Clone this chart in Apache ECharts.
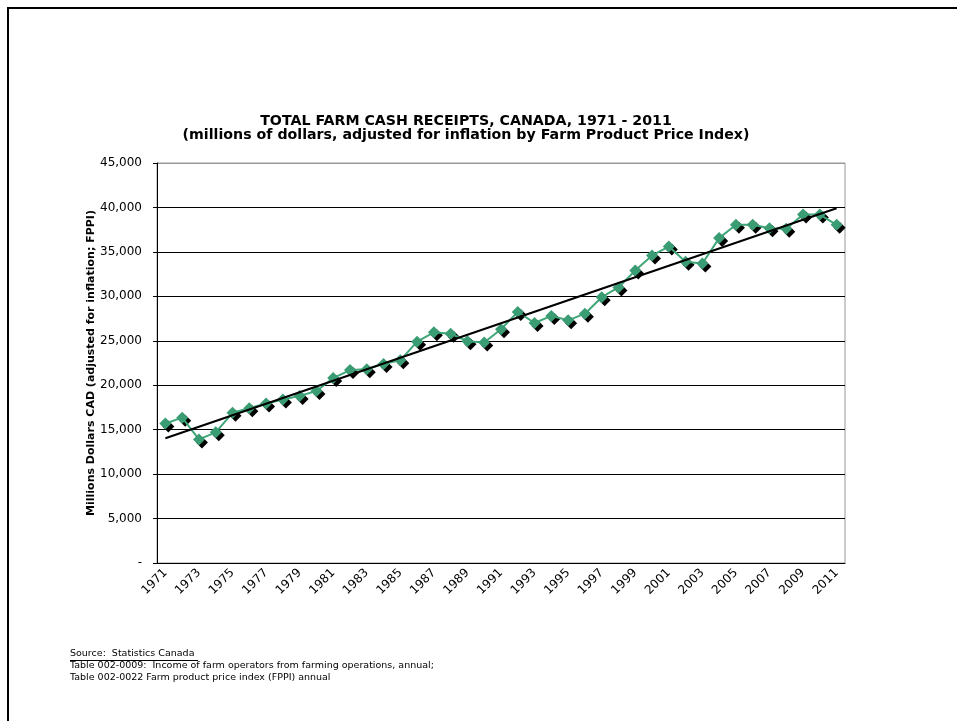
<!DOCTYPE html>
<html>
<head>
<meta charset="utf-8">
<script src="https://cdn.jsdelivr.net/npm/echarts@6/dist/echarts.min.js"></script>
<style>
  html, body { margin: 0; padding: 0; background: #fff; }
  #chart { width: 957px; height: 721px; }
</style>
</head>
<body>
<div id="chart"></div>
<script>
const years = [
  "1971", "1972", "1973", "1974", "1975", "1976", "1977", "1978", "1979", "1980",
  "1981", "1982", "1983", "1984", "1985", "1986", "1987", "1988", "1989", "1990",
  "1991", "1992", "1993", "1994", "1995", "1996", "1997", "1998", "1999", "2000",
  "2001", "2002", "2003", "2004", "2005", "2006", "2007", "2008", "2009", "2010",
  "2011",
];
// millions of dollars, inflation adjusted (FPPI)
const receipts = [
  15700, 16350, 13900, 14700, 16900, 17400, 17950, 18400, 18800, 19350,
  20800, 21700, 21800, 22400, 22800, 24900, 25950, 25800, 24950, 24800,
  26300, 28250, 27000, 27800, 27300, 28050, 29900, 31000, 32900, 34600,
  35600, 33900, 33700, 36550, 38050, 38050, 37650, 37600, 39200, 39200,
  38050,
];
const yTicks = [0, 5000, 10000, 15000, 20000, 25000, 30000, 35000, 40000, 45000];

// linear trend, like the spreadsheet's trendline
function linearTrend(vals) {
  const n = vals.length;
  const mx = (n - 1) / 2;
  const my = vals.reduce((a, b) => a + b, 0) / n;
  let sxy = 0, sxx = 0;
  vals.forEach((v, i) => {
    sxy += (i - mx) * (v - my);
    sxx += (i - mx) * (i - mx);
  });
  const k = sxy / sxx;
  return vals.map((v, i) => my + k * (i - mx));
}
const trend = linearTrend(receipts);

const font = "DejaVu Sans";
const chart = echarts.init(document.getElementById("chart"));

// grid lines black, top one grey like the plot border
const gridColors = yTicks.map((t, i) => (i === yTicks.length - 1 ? "#999" : "#000"));

const option = {
  animation: false,
  backgroundColor: "#fff",
  title: {
    text: "TOTAL FARM CASH RECEIPTS, CANADA, 1971 - 2011\n(millions of dollars, adjusted for inflation by Farm Product Price Index)",
    left: 461,
    top: 109,
    textAlign: "center",
    textStyle: {
      fontFamily: font,
      fontSize: 14.2,
      fontWeight: "bold",
      color: "#000",
      lineHeight: 14.5,
    },
  },
  grid: {
    left: 157,
    top: 163,
    right: 112,
    bottom: 158,
    show: true,
    borderColor: "#999",
    borderWidth: 1,
  },
  xAxis: {
    type: "category",
    data: years,
    boundaryGap: true,
    axisLine: { lineStyle: { color: "#000", width: 1 } },
    axisTick: { interval: 0, length: 4, lineStyle: { color: "#000" } },
    axisLabel: {
      interval: 1,
      rotate: 45,
      margin: 8,
      fontFamily: font,
      fontSize: 12,
      color: "#000",
    },
  },
  yAxis: {
    type: "value",
    min: 0,
    max: 45000,
    interval: 5000,
    name: "Millions Dollars CAD (adjusted for inflation; FPPI)",
    nameLocation: "middle",
    nameGap: 60,
    nameMoveOverlap: false,
    nameTextStyle: {
      fontFamily: font,
      fontSize: 11,
      fontWeight: "bold",
      color: "#000",
    },
    axisLine: { show: true, lineStyle: { color: "#000", width: 1 } },
    axisTick: { show: true, length: 4, lineStyle: { color: "#000" } },
    axisLabel: {
      margin: 15,
      fontFamily: font,
      fontSize: 12,
      color: "#000",
      formatter: function (v) {
        return v === 0 ? "-" : v.toLocaleString("en-US");
      },
    },
    splitLine: { lineStyle: { color: gridColors, width: 1 } },
  },
  series: [
    {
      name: "shadow",
      type: "line",
      data: receipts,
      symbol: "diamond",
      symbolSize: 12,
      symbolOffset: [3, 3],
      showAllSymbol: true,
      lineStyle: { opacity: 0 },
      itemStyle: { color: "#000" },
      z: 1,
    },
    {
      name: "Total farm cash receipts",
      type: "line",
      data: receipts,
      symbol: "diamond",
      symbolSize: 12,
      showAllSymbol: true,
      lineStyle: { color: "#3FA678", width: 2 },
      itemStyle: { color: "#3A9C72" },
      z: 2,
    },
    {
      name: "Linear trend",
      type: "line",
      data: trend,
      showSymbol: false,
      symbol: "none",
      lineStyle: { color: "#000", width: 2 },
      z: 3,
    },
  ],
  graphic: [
    {
      type: "rect",
      shape: { x: 8, y: 8, width: 1200, height: 1200 },
      style: { fill: "none", stroke: "#000", lineWidth: 2 },
      silent: true,
    },
    {
      type: "text",
      left: 70,
      top: 648,
      style: {
        text: "Source:  Statistics Canada \nTable 002-0009:  Income of farm operators from farming operations, annual;\nTable 002-0022 Farm product price index (FPPI) annual",
        font: "9.5px DejaVu Sans",
        fill: "#000",
        lineHeight: 12,
      },
    },
    {
      type: "line",
      shape: { x1: 70, y1: 660.5, x2: 198, y2: 660.5 },
      style: { stroke: "#000", lineWidth: 1 },
    },
  ],
};

chart.setOption(option);
</script>
</body>
</html>
